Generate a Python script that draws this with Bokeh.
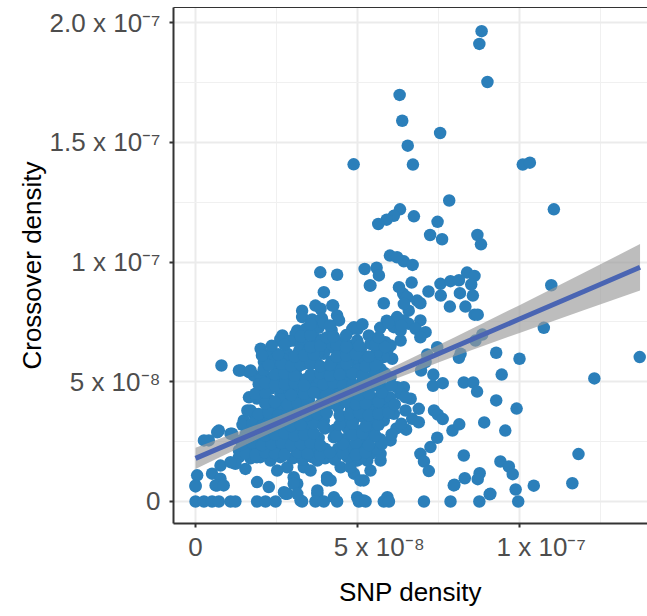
from bokeh.plotting import figure
from bokeh.models import (FixedTicker, LinearAxis, Title, Range1d)
from bokeh.embed import file_html
from bokeh.resources import INLINE

# ---- data (units of 1e-8) ----
snp_density = [
    8.83, 8.76, 9.01, 6.30, 6.38, 7.55, 6.55, 4.88, 6.71, 10.10, 10.32, 7.83, 11.06, 6.31, 6.12, 5.90, 5.64,
    6.74, 7.47, 7.24, 7.61, 8.70, 8.81, 6.43, 6.70, 8.38, 8.61, 6.67, 7.56, 7.87, 8.13, 8.51, 10.98, 7.19,
    7.57, 8.16, 8.56, 6.41, 6.53, 6.84, 6.94, 7.85, 8.33, 8.61, 8.71, 6.58, 6.43, 6.58, 6.94, 6.79, 7.10,
    6.94, 6.33, 10.75, 8.85, 8.64, 7.46, 7.15, 8.18, 8.13, 9.28, 10.00, 13.71, 6.96, 7.10, 7.34, 9.45,
    12.31, 7.33, 7.63, 8.28, 8.57, 8.69, 6.43, 6.33, 6.64, 6.48, 6.69, 6.89, 6.89, 9.28, 9.91, 7.36, 7.48,
    7.63, 8.91, 7.93, 8.14, 9.56, 7.46, 7.25, 6.94, 7.05, 7.20, 8.28, 11.82, 9.41, 9.67, 9.79, 8.77, 8.71,
    8.31, 7.99, 10.44, 11.63, 9.88, 9.08, 7.05, 7.87, 8.76, 9.96,
    6.00, 6.22, 5.22, 5.59, 5.66, 5.38, 3.85, 4.37, 3.96, 3.70, 3.86, 4.25, 3.29, 3.29, 4.37, 4.43, 5.81,
    6.28, 6.43, 6.22, 6.12, 6.33, 4.84, 3.14, 3.03, 3.34, 3.65, 4.27, 4.17, 3.96, 4.73, 4.99, 5.35, 5.40,
    5.86, 5.92, 6.07, 4.94, 4.99, 5.14, 4.48, 4.37, 5.40, 5.71, 3.55, 3.76, 3.34, 3.03, 4.06, 3.55, 3.14,
    4.37, 3.86, 3.45, 3.14, 4.58, 4.06, 4.78, 5.14, 5.50, 6.02, 6.22, 6.48, 5.92,
    3.14, 3.55, 3.96, 4.27, 4.78, 5.30, 5.50, 5.81, 6.12, 6.02, 5.71, 5.40, 4.99, 4.58, 4.17, 3.76, 3.34,
    3.55, 4.06, 4.48, 4.89, 5.19, 5.40, 3.14, 3.24, 3.76, 4.27, 4.99, 5.19, 5.92, 3.03,
    0.80, 1.34, 1.65, 2.01, 2.31, 2.62, 2.83, 2.68, 3.09, 2.11, 1.80, 2.31, 2.06, 1.65, 2.31, 2.62, 1.49,
    1.80, 2.21, 2.62, 2.93, 0.72, 1.08, 0.41, 1.39, 1.34, 1.54, 1.23, 1.90, 2.31, 2.62, 2.83, 2.52, 0.77,
    0.51, 0.77, 0.62, 0.05, 0.00, 1.90, 2.26, 2.73, 3.03, 1.60, 0.26, 0.67, 1.08, 1.34, 1.13, 1.70, 1.90,
    1.39, 1.70, 2.62, 4.22, 5.40, 4.89, 6.02, 5.81, 5.71, 5.30, 5.09, 4.78, 4.17, 3.76, 2.83,
    0.00, 0.26, 0.51, 0.72, 1.08, 1.23, 1.90, 2.16, 2.47, 3.29, 3.70, 3.96, 4.37, 5.04, 5.25, 5.81, 5.97,
    2.78, 3.14, 9.10, 0.00, 0.67, 0.87, 4.06, 7.97,
    1.70, 2.00, 3.00, 3.30, 3.60, 4.00, 4.30, 4.70, 5.10,
    1.60, 1.90, 2.20, 2.50, 2.80, 3.10, 3.40, 3.70, 4.00, 4.40, 4.80, 5.10, 5.60,
    1.70, 2.00, 2.30, 2.60, 2.90, 3.20, 3.50, 3.80, 4.60, 5.00, 5.40, 5.70,
    1.60, 1.90, 2.20, 2.50, 2.80, 3.10, 3.40, 4.00, 4.30, 4.70, 5.10, 5.40, 6.20, 6.50,
    2.00, 2.30, 2.90, 3.20, 3.50, 4.60, 4.90, 5.20, 5.50,
    2.40, 2.70, 3.30, 3.60, 4.40, 4.80, 5.10, 5.40, 5.70, 6.00,
    1.90, 2.70, 3.50, 4.30, 4.90, 5.20, 5.50, 6.00,
    2.30, 2.60, 2.90, 3.20, 3.70, 4.10, 4.60, 5.00, 5.30, 5.80,
    2.00, 2.60, 2.90, 3.40, 3.80, 4.30, 4.60, 5.30, 5.70,
    2.10, 2.50, 2.80, 3.10, 4.00, 4.70, 5.00,
    2.40, 2.70, 4.20, 4.70, 5.20, 5.60,
    3.20, 3.50, 3.80, 4.50, 5.10, 5.60,
    2.90, 3.90, 4.50,
    3.40, 3.80, 4.20, 5.00, 5.70,
    3.60, 3.90, 5.90,
]
crossover_density = [
    19.64, 19.11, 17.52, 16.98, 15.90, 15.39, 14.86, 14.08, 14.07, 14.07, 14.15, 12.57, 12.20, 12.20, 11.93,
    11.77, 11.59, 11.91, 11.68, 11.13, 10.95, 11.13, 10.74, 10.03, 9.88, 9.56, 9.42, 9.14, 9.09, 9.20, 9.24,
    9.06, 9.03, 8.77, 8.60, 8.70, 8.60, 8.67, 8.53, 8.39, 8.28, 8.14, 8.14, 7.80, 7.80, 7.97, 7.56, 7.42,
    7.56, 7.21, 7.07, 6.86, 6.72, 7.25, 6.97, 6.72, 6.44, 6.14, 6.17, 6.00, 6.21, 5.96, 6.03, 5.47, 5.82,
    5.30, 5.30, 5.14, 4.83, 4.94, 4.97, 4.97, 4.59, 4.77, 4.50, 4.29, 3.80, 3.45, 3.31, 3.87, 4.22, 3.88,
    3.80, 3.63, 3.44, 3.30, 2.96, 3.22, 2.96, 2.66, 2.27, 1.99, 1.67, 1.27, 1.92, 1.98, 1.67, 1.46, 1.14,
    1.18, 0.93, 0.97, 0.70, 0.66, 0.76, 0.50, 0.30, 0.00, 0.00, 0.00, 0.00,
    10.27, 10.20, 9.71, 9.76, 9.44, 9.02, 9.57, 9.47, 8.74, 8.18, 8.05, 8.18, 7.97, 7.70, 7.77, 7.56, 8.28,
    8.95, 8.25, 7.70, 7.28, 7.14, 7.21, 7.14, 6.72, 6.58, 6.86, 6.86, 6.44, 6.17, 6.51, 6.72, 6.93, 6.58,
    6.65, 6.30, 5.96, 6.17, 5.75, 5.47, 5.82, 5.47, 5.61, 5.54, 6.03, 5.75, 5.75, 5.89, 5.19, 5.05, 5.19,
    4.77, 4.50, 4.63, 4.35, 4.22, 4.08, 5.19, 4.98, 4.84, 5.19, 4.77, 4.35, 4.22,
    3.38, 3.10, 3.38, 2.68, 2.83, 2.41, 2.96, 3.38, 3.66, 2.55, 1.71, 1.99, 1.71, 2.13, 1.99, 1.71, 1.43,
    1.29, 1.01, 1.43, 1.16, 0.88, 1.29, 0.74, 0.04, 0.32, 0.18, 0.18, 0.04, 0.18, 1.01,
    5.68, 5.47, 5.40, 6.38, 6.17, 6.72, 6.17, 6.93, 7.00, 5.82, 5.26, 5.19, 4.71, 4.35, 4.22, 4.50, 3.38,
    3.66, 3.80, 3.52, 3.94, 2.96, 2.83, 2.55, 2.55, 1.85, 1.36, 1.57, 1.85, 1.71, 1.85, 1.43, 1.29, 1.50,
    1.16, 0.95, 0.67, 1.09, 0.67, 0.81, 0.60, 0.39, 0.74, 3.80, 2.55, 2.89, 1.64, 2.13, 2.83, 3.80, 3.52,
    5.47, 5.47, 6.79, 8.18, 9.02, 7.28, 6.51, 6.03, 1.99, 1.71, 0.88, 1.43, 0.88, 0.46, 0.32,
    0.00, 0.00, 0.00, 0.00, 0.00, 0.00, 0.00, 0.00, 0.00, 0.00, 0.00, 0.00, 0.00, 0.00, 0.00, 0.00, 0.00,
    0.32, 0.32, 0.32, 0.63, 0.67, 0.67, 0.88, 0.67,
    1.80, 1.85, 1.80, 1.75, 1.85, 1.80, 1.75, 1.85, 1.80,
    2.20, 2.25, 2.20, 2.15, 2.25, 2.20, 2.15, 2.25, 2.20, 2.20, 2.25, 2.15, 2.20,
    2.60, 2.65, 2.60, 2.55, 2.65, 2.60, 2.55, 2.65, 2.60, 2.55, 2.65, 2.60,
    3.00, 3.05, 3.00, 2.95, 3.05, 3.00, 2.95, 3.05, 3.00, 3.05, 2.95, 3.00, 3.05, 3.00,
    3.45, 3.50, 3.40, 3.45, 3.50, 3.40, 3.45, 3.50, 3.40,
    3.90, 3.95, 3.85, 3.90, 3.95, 3.85, 3.90, 3.95, 3.85, 3.90,
    4.30, 4.35, 4.25, 4.30, 4.35, 4.25, 4.30, 4.35,
    4.70, 4.75, 4.65, 4.70, 4.75, 4.65, 4.70, 4.75, 4.65, 4.70,
    5.10, 5.15, 5.05, 5.10, 5.15, 5.05, 5.10, 5.15, 5.05,
    5.50, 5.55, 5.45, 5.50, 5.55, 5.45, 5.50,
    5.90, 5.95, 5.85, 5.90, 5.95, 5.85,
    6.30, 6.35, 6.25, 6.30, 6.35, 6.25,
    6.70, 6.75, 6.65,
    7.20, 7.25, 7.15, 7.20, 7.25,
    7.60, 7.65, 7.55,
]

# more points read from the dense core of the cloud
core_snp_density = [
    1.55, 1.85, 2.15, 2.45, 2.75, 3.15, 3.45, 3.85, 4.15, 4.55, 4.95, 5.25,
    1.45, 1.75, 2.05, 2.35, 2.65, 2.95, 3.25, 3.55, 3.85, 4.55, 4.95, 5.35, 5.75,
    1.55, 1.85, 2.15, 2.45, 2.75, 3.05, 3.35, 3.65, 4.35, 4.85, 5.15, 5.55, 6.05,
    1.45, 1.75, 2.05, 2.35, 2.65, 2.95, 3.25, 3.65, 3.95, 4.45, 4.85, 5.25, 5.65, 6.35,
    1.95, 2.25, 2.55, 2.85, 3.15, 3.45, 3.75, 4.05, 4.45, 4.75, 5.05, 5.35, 5.65, 5.95,
    2.15, 2.45, 2.85, 3.15, 3.45, 3.85, 4.25, 4.65, 4.95, 5.25, 5.65, 6.15,
    1.85, 2.15, 2.95, 3.35, 3.65, 4.05, 4.45, 4.75, 5.05, 5.35, 5.75,
    1.95, 2.15, 2.45, 2.75, 3.05, 3.35, 3.95, 4.25, 4.55, 4.85, 5.65, 6.05,
    2.45, 2.75, 3.05, 3.55, 3.85, 4.15, 4.45, 4.85, 5.15, 5.55, 5.85,
    2.25, 2.65, 2.95, 3.25, 3.55, 3.85, 4.15, 4.65, 5.25, 5.55,
    2.05, 2.55, 3.05, 3.35, 3.65, 4.35, 4.65, 4.95, 5.35,
    2.35, 2.75, 3.55, 3.85, 4.35, 4.65, 5.05, 5.55, 5.85,
    3.25, 3.55, 4.05, 4.25, 4.65, 5.65,
    3.55, 3.95, 4.15, 5.15, 5.95, 6.35,
]
core_crossover_density = [
    2.00, 1.95, 2.05, 2.00, 1.95, 2.05, 2.00, 1.95, 2.05, 2.00, 1.95, 2.05,
    2.40, 2.45, 2.35, 2.40, 2.45, 2.35, 2.40, 2.45, 2.35, 2.40, 2.45, 2.35, 2.40,
    2.80, 2.85, 2.75, 2.80, 2.85, 2.75, 2.80, 2.85, 2.75, 2.80, 2.85, 2.75, 2.80,
    3.20, 3.25, 3.15, 3.20, 3.25, 3.15, 3.20, 3.25, 3.15, 3.20, 3.25, 3.15, 3.20, 3.25,
    3.65, 3.70, 3.60, 3.65, 3.70, 3.60, 3.65, 3.70, 3.60, 3.65, 3.70, 3.60, 3.65, 3.70,
    4.10, 4.15, 4.05, 4.10, 4.15, 4.05, 4.10, 4.15, 4.05, 4.10, 4.15, 4.05,
    4.50, 4.55, 4.45, 4.50, 4.55, 4.45, 4.50, 4.55, 4.45, 4.50, 4.55,
    4.90, 4.95, 4.85, 4.90, 4.95, 4.85, 4.90, 4.95, 4.85, 4.90, 4.95, 4.85,
    5.30, 5.35, 5.25, 5.30, 5.35, 5.25, 5.30, 5.35, 5.25, 5.30, 5.35,
    5.70, 5.75, 5.65, 5.70, 5.75, 5.65, 5.70, 5.75, 5.65, 5.70,
    6.10, 6.15, 6.05, 6.10, 6.15, 6.05, 6.10, 6.15, 6.05,
    6.50, 6.55, 6.45, 6.50, 6.55, 6.45, 6.50, 6.55, 6.45,
    6.90, 6.95, 6.85, 6.90, 6.95, 6.85,
    7.40, 7.45, 7.35, 7.40, 7.45, 7.35,
]

# linear fit
fit_x = [0.0, 2.0, 4.0, 6.0, 8.0, 10.0, 12.0, 13.72]
fit_y = [1.80, 2.96, 4.13, 5.29, 6.46, 7.62, 8.78, 9.78]
fit_hw = [0.44, 0.30, 0.22, 0.26, 0.40, 0.58, 0.78, 0.97]

FS = "\u2007\u2007\u2007"  # left padding: labels sit right of their ticks in the original
x_ticks = [0, 5, 10]
x_tick_labels = ["0", FS + "5 x 10\u207b\u2078", FS + "1 x 10\u207b\u2077"]
y_ticks = [0, 5, 10, 15, 20]
y_tick_labels = ["0", "5 x 10\u207b\u2078", "1 x 10\u207b\u2077", "1.5 x 10\u207b\u2077", "2.0 x 10\u207b\u2077"]

x_title = "SNP density"
y_title = "Crossover density"

n = min(len(snp_density), len(crossover_density))
m = min(len(core_snp_density), len(core_crossover_density))
xs = snp_density[:n] + core_snp_density[:m]
ys = crossover_density[:n] + core_crossover_density[:m]

FONT = "Liberation Sans"

p = figure(width=647, height=616, output_backend="svg", toolbar_location=None,
           x_range=Range1d(-0.68, 13.95), y_range=Range1d(-0.92, 20.63),
           min_border_left=173, min_border_right=0, min_border_top=7, min_border_bottom=93)
p.background_fill_color = "white"
p.border_fill_color = "white"
p.outline_line_color = None

p.scatter(xs, ys, size=12.5, color="#2b7fba", line_color=None)

lo = [a - b for a, b in zip(fit_y, fit_hw)]
hi = [a + b for a, b in zip(fit_y, fit_hw)]
p.varea(x=fit_x, y1=lo, y2=hi, fill_color="#999999", fill_alpha=0.65)
p.line(fit_x, fit_y, line_color="#4a65b3", line_width=5)

# axes
for ax, ticks, labels in ((p.xaxis[0], x_ticks, x_tick_labels), (p.yaxis[0], y_ticks, y_tick_labels)):
    ax.ticker = FixedTicker(ticks=ticks, minor_ticks=[t + 2.5 for t in ticks])
    ax.major_label_overrides = {t: l for t, l in zip(ticks, labels)}
    ax.major_label_text_font = FONT
    ax.major_label_text_font_size = "26px"
    ax.major_label_text_color = "#4d4d4d"
    ax.axis_line_color = "#333333"
    ax.axis_line_width = 2
    ax.major_tick_line_color = "#333333"
    ax.major_tick_line_width = 2
    ax.major_tick_out = 4
    ax.major_tick_in = 0
    ax.minor_tick_line_color = None

p.xaxis[0].major_label_standoff = 4
p.yaxis[0].major_label_standoff = 9

p.yaxis[0].axis_label = y_title
p.yaxis[0].axis_label_text_font = FONT
p.yaxis[0].axis_label_text_font_size = "26px"
p.yaxis[0].axis_label_text_font_style = "normal"
p.yaxis[0].axis_label_text_color = "black"
p.yaxis[0].axis_label_standoff = 0

top = LinearAxis(ticker=FixedTicker(ticks=[]), major_label_text_font_size="0px",
                 axis_line_color="#333333", axis_line_width=1.2,
                 major_tick_line_color=None, minor_tick_line_color=None)
p.add_layout(top, "above")

p.xgrid.grid_line_color = "#ebebeb"
p.ygrid.grid_line_color = "#ebebeb"
p.xgrid.grid_line_width = 2
p.ygrid.grid_line_width = 2
p.xgrid.minor_grid_line_color = "#f0f0f0"
p.ygrid.minor_grid_line_color = "#f0f0f0"
p.xgrid.minor_grid_line_width = 1
p.ygrid.minor_grid_line_width = 1

# x title, centred a little right of the frame centre as in the original
p.add_layout(Title(text=x_title, align="center", offset=28, standoff=20,
                   vertical_align="bottom",
                   text_font=FONT, text_font_size="26px", text_font_style="normal",
                   text_color="black"), "below")

open("out.html", "w").write(file_html(p, INLINE))
